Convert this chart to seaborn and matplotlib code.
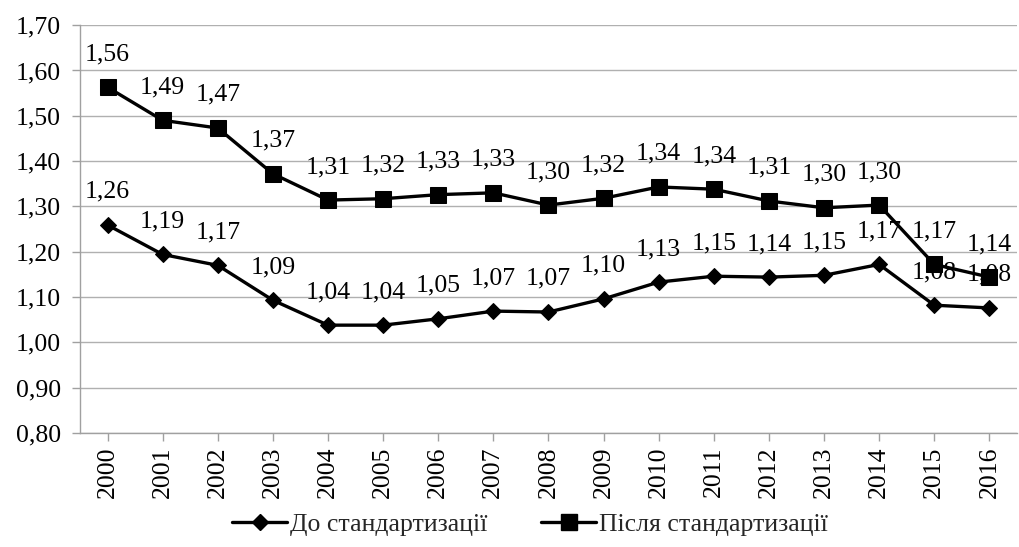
import numpy as np
import pandas as pd
import matplotlib.pyplot as plt
import seaborn as sns

years = [str(y) for y in range(2000, 2017)]
before = [1.259, 1.194, 1.170, 1.093, 1.038, 1.038, 1.052, 1.069, 1.067, 1.096, 1.133, 1.146,
          1.144, 1.148, 1.172, 1.082, 1.076]
after = [1.563, 1.490, 1.473, 1.372, 1.314, 1.317, 1.326, 1.330, 1.303, 1.318, 1.343, 1.338,
         1.312, 1.297, 1.303, 1.172, 1.144]
series_names = ["До стандартизації", "Після стандартизації"]


def fmt(v):
    return f"{v:.2f}".replace(".", ",")


sns.set_theme(style="white")
plt.rcParams['font.family'] = ['Liberation Serif', 'DejaVu Serif']
FS = 18.5

fig, ax = plt.subplots(figsize=(10.19, 5.47), dpi=100)
fig.subplots_adjust(left=0.0785, right=0.998, top=0.954, bottom=0.2084)

pos = np.arange(len(years))
df = pd.DataFrame({
    "pos": np.concatenate([pos, pos]),
    "value": before + after,
    "series": [series_names[0]] * len(years) + [series_names[1]] * len(years),
})

sns.lineplot(data=df, x="pos", y="value", hue="series", style="series",
             markers={series_names[0]: "D", series_names[1]: "s"}, dashes=False,
             palette=["black", "black"], linewidth=2.4, markersize=9,
             markeredgecolor="black", ax=ax, legend=False, zorder=3)
for line in ax.lines:
    if line.get_marker() == "s":
        line.set_markersize(12)
    else:
        line.set_markersize(8.5)

for vals in (before, after):
    for x, v in zip(pos, vals):
        ax.annotate(fmt(v), (x, v), xytext=(0, 19.5), textcoords="offset points",
                    ha="center", va="baseline", fontsize=FS, color="black", zorder=4)

ax.set_xlim(-0.5, len(years) - 0.5)
ax.set_ylim(0.8, 1.7)
yt = np.arange(0.8, 1.701, 0.1)
ax.set_yticks(yt)
ax.set_yticklabels([fmt(t) for t in yt], fontsize=FS)
ax.set_xticks(pos)
ax.set_xticklabels(years, rotation=90, fontsize=FS)
ax.set_xlabel("")
ax.set_ylabel("")

ax.yaxis.grid(True, color="#b0b0b0", linewidth=1)
ax.set_axisbelow(True)
for s in ["top", "right"]:
    ax.spines[s].set_visible(False)
for s in ["left", "bottom"]:
    ax.spines[s].set_color("#a0a0a0")
    ax.spines[s].set_linewidth(1)
ax.tick_params(axis="both", length=5.8, width=1, color="#a0a0a0",
               bottom=True, left=True, labelcolor="black")
ax.tick_params(axis="y", pad=8)
ax.tick_params(axis="x", pad=4)

handles = [
    plt.Line2D([], [], color="black", linewidth=2.4, marker="D", markersize=8.5),
    plt.Line2D([], [], color="black", linewidth=2.4, marker="s", markersize=12),
]
fig.legend(handles, series_names, loc="center", bbox_to_anchor=(0.52, 0.042),
           ncol=2, frameon=False, fontsize=FS, handlelength=2.15,
           columnspacing=2.1, handletextpad=0.1)

fig.savefig("out.png", dpi=100)
